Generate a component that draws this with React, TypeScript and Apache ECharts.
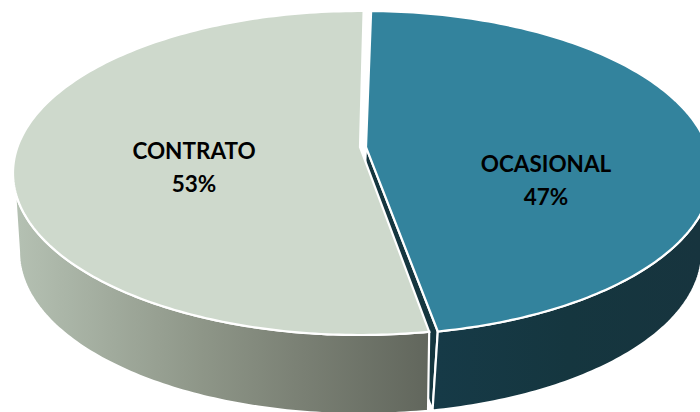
import React, { useEffect, useRef } from "react";
import * as echarts from "echarts";

const categories = ["OCASIONAL", "CONTRATO"];
const shares = [47, 53];

const START_DEG = 1;
const K = -0.16; // perspective shift of the pie's centre

type Ell = { cx: number; cy: number; a: number; b: number };
const looks = [
  {
    top: { cx: 366, cy: 173, a: 346, b: 162 } as Ell,
    low: { cx: 362, cy: 252, a: 340, b: 162 } as Ell,
    topFill: "#33839D",
    wallFill: new echarts.graphic.LinearGradient(437, 0, 700, 0, [
      { offset: 0, color: "#163A47" },
      { offset: 0.5, color: "#15363F" },
      { offset: 1, color: "#17343E" },
    ], true),
    faceFill: "#15363F",
    wallTopFrom: 98,
    wallLowFrom: 90,
    endTrim: 0.4,
    label: [546, 180],
  },
  {
    top: { cx: 360, cy: 173, a: 347, b: 162 } as Ell,
    low: { cx: 360, cy: 252, a: 341, b: 162 } as Ell,
    topFill: "#CED9CC",
    wallFill: new echarts.graphic.LinearGradient(14, 0, 430, 0, [
      { offset: 0, color: "#B5C1B3" },
      { offset: 0.45, color: "#8E9688" },
      { offset: 0.69, color: "#7A8074" },
      { offset: 1, color: "#61665C" },
    ], true),
    faceFill: "#A9B5A7",
    wallTopFrom: 264,
    wallLowFrom: 270,
    endTrim: 0.3,
    label: [194, 167],
  },
];

// Maps a pie angle (degrees clockwise from the top) to the ellipse's own parameter.
function warp(deg: number) {
  const t = (deg * Math.PI) / 180;
  const x = Math.sin(t);
  const y = -Math.cos(t);
  const d = 1 + K * y;
  return [(x * Math.sqrt(1 - K * K)) / d, (y + K) / d];
}
const rim = (e: Ell, deg: number) => {
  const [u, v] = warp(deg);
  return [e.cx + e.a * u, e.cy + e.b * v];
};
const raw = (e: Ell, deg: number) => {
  const t = (deg * Math.PI) / 180;
  return [e.cx + e.a * Math.sin(t), e.cy - e.b * Math.cos(t)];
};
const apex = (e: Ell) => [e.cx, e.cy + K * e.b];
const toPath = (pts: number[][]) =>
  "M" + pts.map((p) => p[0].toFixed(2) + " " + p[1].toFixed(2)).join("L") + "Z";
const paramOf = (deg: number) => {
  const [u, v] = warp(deg);
  let d = (Math.atan2(u, -v) * 180) / Math.PI;
  if (d < 0) d += 360;
  return d;
};
const arc = (e: Ell, from: number, to: number) => {
  const out: number[][] = [];
  const n = Math.max(2, Math.ceil(Math.abs(to - from) / 1));
  for (let i = 0; i <= n; i++) out.push(raw(e, from + ((to - from) * i) / n));
  return out;
};

export default function App() {
  const ref = useRef<HTMLDivElement>(null);
  useEffect(() => {
    document.body.style.margin = "0";
    const chart = echarts.init(ref.current!, null, { renderer: "svg" });
    const total = shares.reduce((s, v) => s + v, 0);
    chart.setOption({
      animation: false,
      backgroundColor: "#ffffff",
      series: [
        {
          type: "custom",
          coordinateSystem: "none",
          silent: true,
          data: categories.map((name, i) => ({ name, value: shares[i] })),
          renderItem: (params: any) => {
            const i = params.dataIndex;
            const look = looks[i];
            const before = shares.slice(0, i).reduce((s, v) => s + v, 0);
            const from = START_DEG + (before / total) * 360;
            const to = from + (shares[i] / total) * 360 - look.endTrim;
            const pf = paramOf(from);
            let pt = paramOf(to);
            if (pt <= pf) pt += 360;
            const { top, low } = look;
            const stroke = { stroke: "#ffffff", lineWidth: 2.2, lineJoin: "miter" };
            const children: any[] = [];
            const boundary = i === 0 ? pt : pf;
            // outer wall
            const wall =
              i === 0
                ? [...arc(top, look.wallTopFrom, boundary), ...arc(low, boundary, look.wallLowFrom)]
                : [...arc(top, boundary, look.wallTopFrom), ...arc(low, look.wallLowFrom, boundary)];
            if (i === 0) {
              const a0 = apex(top);
              const a1 = apex(low);
              children.push({
                type: "path",
                shape: { pathData: toPath([a0, rim(top, to), rim(low, to), a1]) },
                style: { fill: look.faceFill, ...stroke },
              });
            }
            children.push({
              type: "path",
              shape: { pathData: toPath(wall) },
              style: { fill: look.wallFill, ...stroke },
            });
            // top face
            children.push({
              type: "path",
              shape: { pathData: toPath([apex(top), ...arc(top, pf, pt)]) },
              style: { fill: look.topFill, ...stroke },
            });
            children.push({
              type: "text",
              x: look.label[0],
              y: look.label[1],
              style: {
                text: `${categories[i]}\n${Math.round((shares[i] / total) * 100)}%`,
                fill: "#000000",
                font: 'bold 22.5px Lato, "Open Sans", sans-serif',
                align: "center",
                verticalAlign: "middle",
                lineHeight: 33,
              },
            });
            return { type: "group", children };
          },
        },
      ],
    });
    return () => chart.dispose();
  }, []);
  return <div ref={ref} style={{ width: 700, height: 412, overflow: "hidden" }} />;
}
